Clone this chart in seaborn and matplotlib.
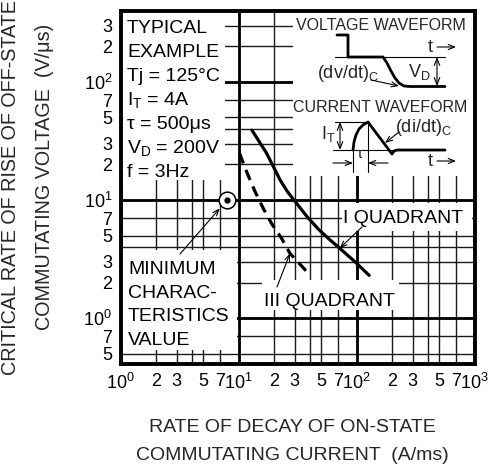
import matplotlib
matplotlib.use('Agg')
import matplotlib.pyplot as plt
import seaborn as sns
from matplotlib.patches import Rectangle
from matplotlib.transforms import Affine2D

# values
q1_x = [13.0, 15.3, 17.3, 22.5, 25.8, 29.5, 38.0, 48.0, 58.5, 72.0, 97.0, 128.0]
q1_y = [39.0, 30.2, 24.9, 14.8, 11.9, 10.0, 7.25, 5.6, 4.67, 3.9, 3.0, 2.3]
q3_x = [10.2, 11.7, 13.8, 16.2, 19.1, 23.2, 27.3, 40.4]
q3_y = [24.9, 17.4, 11.8, 8.5, 6.3, 4.73, 3.53, 2.31]
min_x = [8.0]
min_y = [10.0]

x_ticks = [1, 2, 3, 4, 5, 7, 10, 20, 30, 40, 50, 70, 100, 200, 300, 400, 500, 700, 1000]
x_labels = ['$\\mathregular{10^0}$', '2', '3', '', '5', '7',
            '$\\mathregular{10^1}$', '2', '3', '', '5', '7',
            '$\\mathregular{10^2}$', '2', '3', '', '5', '7', '$\\mathregular{10^3}$']
y_ticks = [0.5, 0.7, 1, 2, 3, 4, 5, 7, 10, 20, 30, 40, 50, 70, 100, 200, 300]
y_labels = ['5', '7', '$\\mathregular{10^0}$', '2', '3', '', '5', '7',
            '$\\mathregular{10^1}$', '2', '3', '', '5', '7',
            '$\\mathregular{10^2}$', '2', '3']
decades = [1, 10, 100, 1000]

typical_lines = ['TYPICAL', 'EXAMPLE', 'Tj = 125°C', '$\\mathregular{I_T}$ = 4A',
                 'τ = 500μs', '$\\mathregular{V_D}$ = 200V', 'f = 3Hz']
minimum_lines = ['MINIMUM', 'CHARAC-', 'TERISTICS', 'VALUE']

sns.set_style('white')
plt.rcParams['font.family'] = ['Liberation Sans', 'DejaVu Sans']
plt.rcParams['mathtext.fontset'] = 'custom'
plt.rcParams['mathtext.rm'] = 'Liberation Sans'
plt.rcParams['mathtext.it'] = 'Liberation Sans:italic'

W, H = 498, 468
fig = plt.figure(figsize=(W / 100, H / 100), dpi=100)
ax = fig.add_axes([120.5 / W, 1 - 363.5 / H, 354 / W, 353 / H])
# pixel transform (origin top-left) for the annotations
T = Affine2D().scale(1 / W, -1 / H).translate(0, 1) + fig.transFigure

ax.set_xscale('log')
ax.set_yscale('log')
ax.set_xlim(1, 1000)
ax.set_ylim(0.412, 403)
ax.set_xticks(x_ticks)
ax.set_xticklabels(x_labels)
ax.set_yticks(y_ticks)
ax.set_yticklabels(y_labels)
ax.minorticks_off()
ax.tick_params(length=0, labelsize=13, colors='black')
ax.tick_params(axis='x', pad=7)
ax.tick_params(axis='y', pad=6)
ax.set_axisbelow(True)
ax.grid(True, color='#1a1a1a', lw=1.0)
for d in decades:
    ax.axvline(d, color='black', lw=2.0, zorder=0.6)
    ax.axhline(d, color='black', lw=2.0, zorder=0.6)
for s in ax.spines.values():
    s.set_linewidth(2.8)
    s.set_color('black')

# white label boxes covering the grid
boxes = [(121, 11, 225, 180), (121, 250, 237, 350), (342, 203, 472, 231),
         (262, 280, 399, 310), (293, 11, 473, 176)]
for x0, y0, x1, y1 in boxes:
    ax.add_patch(Rectangle((x0, y0), x1 - x0, y1 - y0, transform=T,
                           facecolor='white', edgecolor='none', zorder=1, clip_on=False))

sns.lineplot(x=q1_x, y=q1_y, ax=ax, color='black', lw=2.3, estimator=None, zorder=3)
sns.lineplot(x=q3_x, y=q3_y, ax=ax, color='black', lw=2.3, estimator=None,
             ls=(0, (3.4, 2.2)), zorder=3)
ax.plot(min_x, min_y, 'o', ms=12, mfc='white', mec='black', mew=1.1, zorder=4)
ax.plot(min_x, min_y, 'o', ms=3.5, color='black', zorder=5)

txt = dict(transform=T, fontsize=14, color='black', zorder=6)
for i, s in enumerate(typical_lines):
    ax.text(127, 33 + i * 24, s, ha='left', va='baseline', **txt)
for i, s in enumerate(minimum_lines):
    ax.text(128, 274 + i * 23.7, s, ha='left', va='baseline', **txt)
ax.text(343, 223, 'I QUADRANT', ha='left', va='baseline', **txt)
ax.text(264, 306, 'III QUADRANT', ha='left', va='baseline', **txt)

arrow = dict(arrowstyle='->,head_length=0.45,head_width=0.18', lw=0.8, color='black',
             shrinkA=0, shrinkB=0)
ax.annotate('', xy=(min_x[0], min_y[0]), xycoords='data', xytext=(180, 254), textcoords=T,
            arrowprops=dict(arrow, shrinkB=8), zorder=6)
ax.annotate('', xy=(q1_x[9], q1_y[9]), xycoords='data', xytext=(362, 227), textcoords=T,
            arrowprops=arrow, zorder=6)
ax.annotate('', xy=(q3_x[6], q3_y[6]), xycoords='data', xytext=(277, 287), textcoords=T,
            arrowprops=arrow, zorder=6)

# waveform sketches (pixel coordinates inside the white box)
sk = dict(transform=T, clip_on=False, color='black', zorder=6)
ax.text(381, 30, 'VOLTAGE WAVEFORM', ha='center', va='baseline', transform=T, fontsize=11.5, zorder=6)
ax.text(380, 112, 'CURRENT WAVEFORM', ha='center', va='baseline', transform=T, fontsize=11.5, zorder=6)
ax.plot([335, 445], [57, 57], lw=0.8, **sk)
ax.plot([337, 348, 348, 383, 387, 391, 395, 399, 404, 410, 445],
        [35, 35, 57, 57, 63, 71, 78, 83, 86, 86.5, 86.5], lw=2.0, **sk)
ax.annotate('', xy=(437, 57), xytext=(437, 86), xycoords=T, textcoords=T,
            arrowprops=dict(arrowstyle='<->,head_length=0.5,head_width=0.2', lw=0.8, color='black',
                            shrinkA=0, shrinkB=0), zorder=6)
ax.text(408, 77, '$\\mathregular{V_D}$', ha='left', va='baseline', transform=T, fontsize=13, zorder=6)
ax.text(317, 78, '(dv/dt)$\\mathregular{_C}$', ha='left', va='baseline', transform=T, fontsize=13, zorder=6)
ax.annotate('', xy=(399, 86), xytext=(371, 80), xycoords=T, textcoords=T, arrowprops=arrow, zorder=6)
for yb in (52, 166):
    ax.text(430, yb, 't', ha='center', va='baseline', transform=T, fontsize=13, zorder=6)
    ax.annotate('', xy=(456, yb - 5), xytext=(437, yb - 5), xycoords=T, textcoords=T,
                arrowprops=arrow, zorder=6)

ax.plot([333, 445], [150, 150], lw=0.8, **sk)
ax.plot([335, 368], [122, 122], lw=0.8, **sk)
ax.plot([353, 353], [150, 172], lw=0.8, **sk)
ax.plot([368, 368], [122, 172], lw=0.8, **sk)
ax.plot([353, 354, 356, 359, 363, 368, 392, 394, 397, 445],
        [150, 142, 135, 129, 125, 122, 154, 151, 150, 150], lw=2.0, **sk)
ax.annotate('', xy=(340, 122), xytext=(340, 150), xycoords=T, textcoords=T,
            arrowprops=dict(arrowstyle='<->,head_length=0.5,head_width=0.2', lw=0.8, color='black',
                            shrinkA=0, shrinkB=0), zorder=6)
ax.text(321, 139, '$\\mathregular{I_T}$', ha='left', va='baseline', transform=T, fontsize=13, zorder=6)
ax.text(360, 158, 'τ', ha='center', va='baseline', transform=T, fontsize=11, zorder=6)
ax.annotate('', xy=(353, 163), xytext=(333, 163), xycoords=T, textcoords=T, arrowprops=arrow, zorder=6)
ax.annotate('', xy=(368, 163), xytext=(388, 163), xycoords=T, textcoords=T, arrowprops=arrow, zorder=6)
ax.text(395, 132, '(di/dt)$\\mathregular{_C}$', ha='left', va='baseline', transform=T, fontsize=13, zorder=6)
ax.annotate('', xy=(385, 143), xytext=(399, 132), xycoords=T, textcoords=T, arrowprops=arrow, zorder=6)

# axis titles
fig.text(11 / W, 1 - 188 / H, 'CRITICAL RATE OF RISE OF OFF-STATE', rotation=90,
         ha='center', va='center', fontsize=14.2)
fig.text(44 / W, 1 - 177 / H, 'COMMUTATING VOLTAGE  (V/μs)', rotation=90,
         ha='center', va='center', fontsize=14.2)
fig.text(292 / W, 1 - 428 / H, 'RATE OF DECAY OF ON-STATE', ha='center', va='center', fontsize=14)
fig.text(292 / W, 1 - 455 / H, 'COMMUTATING CURRENT  (A/ms)', ha='center', va='center', fontsize=14)

fig.savefig('out.png', dpi=100)
